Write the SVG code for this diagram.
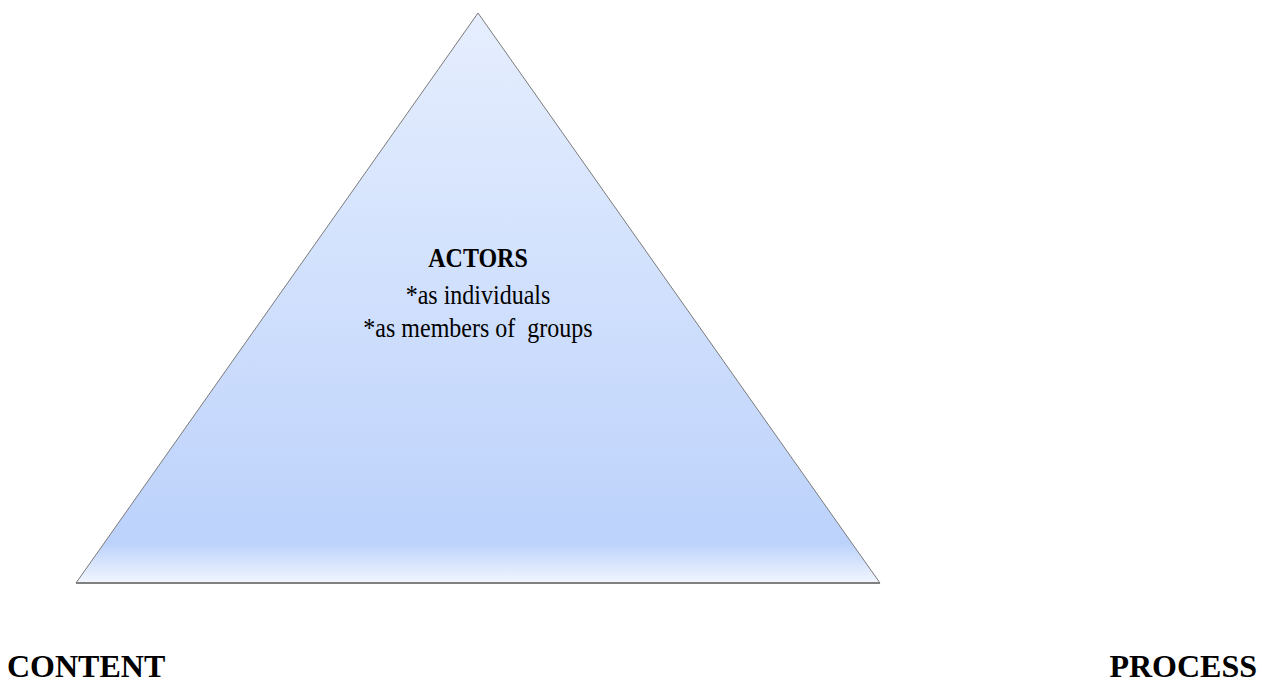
<svg xmlns="http://www.w3.org/2000/svg" width="1262" height="685" viewBox="0 0 1262 685">
  <style>
    .label { font-family: "Liberation Serif", "Times New Roman", serif; fill: #000; }
    .body { font-size: 24px; text-anchor: middle; }
    .title { font-weight: bold; }
    .corner { font-weight: bold; font-size: 32px; }
  </style>
  <defs>
    <linearGradient id="pyramidFill" gradientUnits="userSpaceOnUse" x1="0" y1="13" x2="0" y2="583">
      <stop offset="0" stop-color="#e6eefe"/>
      <stop offset="0.35" stop-color="#d6e4fd"/>
      <stop offset="0.7" stop-color="#c7d9fc"/>
      <stop offset="0.93" stop-color="#bcd2fb"/>
      <stop offset="1" stop-color="#f2f6fe"/>
    </linearGradient>
  </defs>
  <rect width="1262" height="685" fill="#fff"/>

  <g id="actors">
    <polygon points="478,13 880,583 76,583" fill="url(#pyramidFill)" stroke="#7a7a7a" stroke-width="1"/>
    <line x1="76" y1="583" x2="880" y2="583" stroke="#808080" stroke-width="2"/>
    <!-- lines are drawn slightly taller than wide -->
    <text class="label body title" transform="translate(478,267) scale(1,1.18)">ACTORS</text>
    <text class="label body" transform="translate(478,304) scale(1,1.15)">*as individuals</text>
    <text class="label body" transform="translate(478,337) scale(1,1.15)" xml:space="preserve">*as members of  groups</text>
  </g>

  <g id="content">
    <text class="label corner" x="7" y="677">CONTENT</text>
  </g>

  <g id="process">
    <text class="label corner" x="1257" y="677" text-anchor="end">PROCESS</text>
  </g>

  <g id="connectors"></g>
</svg>
